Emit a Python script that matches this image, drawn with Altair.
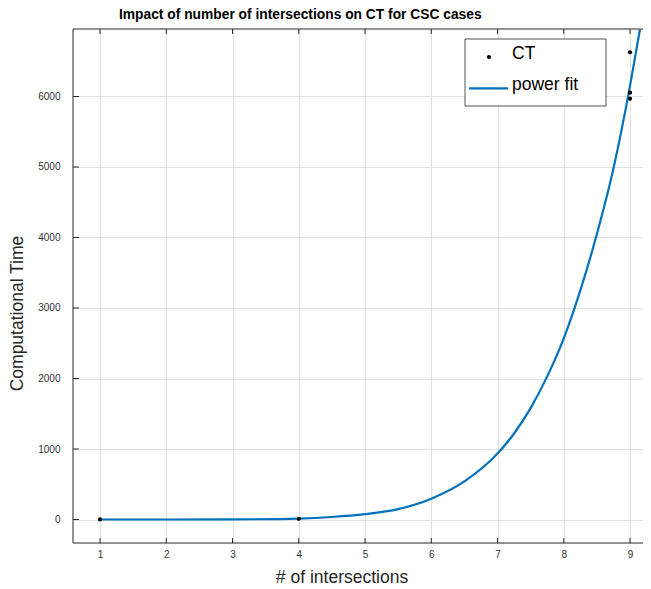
import altair as alt
import pandas as pd

# ---- data ----
ct_x = [1, 4, 9, 9, 9]
ct_y = [2, 10, 6627, 6054, 5969]

fit_x = [1, 2, 3, 4, 4.5, 5, 5.5, 6, 6.5, 7, 7.25, 7.5, 7.75, 8, 8.25, 8.5, 8.75, 9, 9.15]
fit_y = [0, 0, 2, 14, 36, 76, 148, 295, 540, 935, 1220, 1580, 2030, 2570, 3250, 4050, 4980, 6150, 6950]

x_ticks = [1, 2, 3, 4, 5, 6, 7, 8, 9]
y_ticks = [0, 1000, 2000, 3000, 4000, 5000, 6000]
legend_labels = ["CT", "power fit"]

title_text = ["Impact of number of intersections on CT for CSC cases"]
x_title = "# of intersections"
y_title = "Computational Time"

x_domain = [0.592, 9.196]
y_domain = [-333, 6957]

W, H = 570, 514
FONT = "Liberation Sans"
AXC = "#262626"
GRID = "#e2e2e2"
BLUE = "#0072BD"

ct_df = pd.DataFrame({"x": ct_x, "y": ct_y})
fit_df = pd.DataFrame({"x": fit_x, "y": fit_y})
xt_df = pd.DataFrame({"x": x_ticks})
yt_df = pd.DataFrame({"y": y_ticks})

xs = alt.Scale(domain=x_domain, nice=False, zero=False)
ys = alt.Scale(domain=y_domain, nice=False, zero=False)

x_axis = alt.Axis(values=x_ticks, grid=True, gridColor=GRID, gridWidth=1, domain=False,
                  ticks=False, tickSize=0, labelFontSize=10, labelColor="#333333",
                  labelPadding=6, labelFont=FONT, format="d",
                  title=x_title, titleFontSize=17.5, titleFontWeight="normal", titleColor=AXC,
                  titleFont=FONT, titleX=268.5, titleY=34, titleBaseline="middle", titleAlign="center")
y_axis = alt.Axis(values=y_ticks, grid=True, gridColor=GRID, gridWidth=1, domain=False,
                  ticks=False, tickSize=0, labelFontSize=10, labelColor="#333333",
                  labelPadding=13, labelFont=FONT, format="d",
                  title=y_title, titleFontSize=17.5, titleFontWeight="normal", titleColor=AXC,
                  titleFont=FONT, titleX=-55.5, titleY=284, titleBaseline="middle", titleAlign="center",
                  titleAngle=270)

X = lambda: alt.X("x:Q", scale=xs, axis=x_axis)
Y = lambda: alt.Y("y:Q", scale=ys, axis=y_axis)

line = alt.Chart(fit_df).mark_line(color=BLUE, strokeWidth=2.2, clip=True, interpolate="monotone").encode(
    x=X(), y=Y())

pts = alt.Chart(ct_df).mark_point(filled=True, color="black", size=18, opacity=1).encode(
    x=X(), y=Y())

bot_ticks = alt.Chart(xt_df).mark_rule(color=AXC, strokeWidth=1).encode(
    x=X(), y=alt.value(H), y2=alt.value(H - 5))
top_ticks = alt.Chart(xt_df).mark_rule(color=AXC, strokeWidth=1).encode(
    x=X(), y=alt.value(0), y2=alt.value(5))
left_ticks = alt.Chart(yt_df).mark_rule(color=AXC, strokeWidth=1).encode(
    y=Y(), x=alt.value(0), x2=alt.value(6))

frame_df = pd.DataFrame({"k": [0]})
frame_left = alt.Chart(frame_df).mark_rule(color=AXC, strokeWidth=1).encode(
    x=alt.value(0), y=alt.value(0), y2=alt.value(H))
frame_top = alt.Chart(frame_df).mark_rule(color=AXC, strokeWidth=1).encode(
    x=alt.value(0), x2=alt.value(W + 10), y=alt.value(0))
frame_bot = alt.Chart(frame_df).mark_rule(color=AXC, strokeWidth=1).encode(
    x=alt.value(0), x2=alt.value(W + 10), y=alt.value(H))

leg_df = pd.DataFrame({"label": legend_labels})
leg_box = alt.Chart(leg_df.head(1)).mark_rect(fill="white", stroke=AXC, strokeWidth=0.8).encode(
    x=alt.value(392), x2=alt.value(533), y=alt.value(10), y2=alt.value(77))
leg_dot = alt.Chart(leg_df.head(1)).mark_point(filled=True, color="black", size=18, opacity=1).encode(
    x=alt.value(416), y=alt.value(28))
leg_line = alt.Chart(leg_df.head(1)).mark_rule(color=BLUE, strokeWidth=2.2).encode(
    x=alt.value(396), x2=alt.value(435), y=alt.value(59.3))
leg_t1 = alt.Chart(leg_df.head(1)).mark_text(align="left", baseline="alphabetic", fontSize=17.5,
                                             font=FONT, color="black").encode(
    x=alt.value(439), y=alt.value(29.5), text="label:N")
leg_t2 = alt.Chart(leg_df.tail(1)).mark_text(align="left", baseline="alphabetic", fontSize=17.5,
                                             font=FONT, color="black").encode(
    x=alt.value(439), y=alt.value(61), text="label:N")

title_df = pd.DataFrame({"label": title_text})
title_mark = alt.Chart(title_df).mark_text(align="left", baseline="alphabetic", fontSize=13.8,
                                           fontWeight="bold", font=FONT, color="black").encode(
    x=alt.value(46), y=alt.value(-10.5), text="label:N")

chart = alt.layer(
    line, pts, bot_ticks, top_ticks, left_ticks, frame_left, frame_top, frame_bot,
    leg_box, leg_dot, leg_line, leg_t1, leg_t2, title_mark,
).properties(
    width=W, height=H,
    autosize=alt.AutoSizeParams(type="none"),
    padding={"left": 65, "top": 21, "right": 0, "bottom": 45},
).configure(
    font=FONT
).configure_view(
    stroke=None
)

chart.save("out.html", embed_options={"renderer": "svg", "actions": False})
